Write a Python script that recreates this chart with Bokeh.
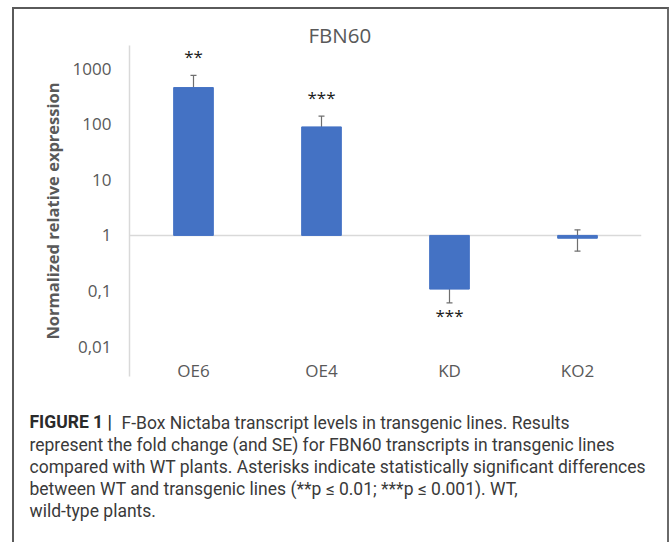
from bokeh.plotting import figure
from bokeh.layouts import column
from bokeh.models import (Range1d, FixedTicker, Whisker, TeeHead, ColumnDataSource, Title)
from bokeh.core.properties import value
from bokeh.embed import file_html
from bokeh.resources import INLINE

# ---------------- data ----------------
chart_title = "FBN60"
lines = ["OE6", "OE4", "KD", "KO2"]
fold_change = [460, 90, 0.108, 0.89]
se = [300, 51, 0.047, 0.37]
significance = ["**", "***", "***", ""]
y_ticks = [0.01, 0.1, 1, 10, 100, 1000]
y_tick_labels = ["0,01", "0,1", "1", "10", "100", "1000"]
y_label = "Normalized relative expression"
caption_head = "FIGURE 1 |"
caption_lines = [
    "F-Box Nictaba transcript levels in transgenic lines. Results",
    "represent the fold change (and SE) for FBN60 transcripts in transgenic lines",
    "compared with WT plants. Asterisks indicate statistically significant differences",
    "between WT and transgenic lines (**p \u2264 0.01; ***p \u2264 0.001). WT,",
    "wild-type plants.",
]

# ---------------- layout constants (page px) ----------------
OX, OY = 14, 9            # inner origin of the bordered box
W = 653                   # inner width
H1 = 533                  # figure height
FL, FR, FT, FB = 129, 641, 45, 376
GRAY = "#595959"
FONT = "Open Sans"

upper = [v + s for v, s in zip(fold_change, se)]
lower = [v - s for v, s in zip(fold_change, se)]
star_y = [u if v >= 1 else lo for v, u, lo in zip(fold_change, upper, lower)]
star_off = [-19 if v >= 1 else 13 for v in fold_change]

src = ColumnDataSource(dict(line=lines, fc=fold_change, upper=upper, lower=lower,
                            star=significance, star_y=star_y, star_off=star_off))

p = figure(width=W, height=H1, x_range=lines,
           y_range=Range1d(10 ** -2.54, 10 ** 3.42), y_axis_type="log",
           output_backend="svg", toolbar_location=None,
           min_border_left=FL - OX, min_border_right=W - (FR - OX),
           min_border_top=FT - OY, min_border_bottom=H1 - (FB - OY))
p.outline_line_color = None
p.background_fill_color = "white"
p.border_fill_color = "white"

# title
p.title.text = chart_title
p.title.align = "left"
p.title.offset = 179
p.title.standoff = -6
p.title.text_font = FONT
p.title.text_font_style = "normal"
p.title.text_font_size = "20.5px"
p.title.text_color = GRAY

# x axis
xa = p.xaxis[0]
xa.axis_line_color = None
xa.major_tick_line_color = None
xa.minor_tick_line_color = None
xa.major_tick_out = 0
xa.major_tick_in = 0
xa.major_label_standoff = -18
xa.major_label_text_font = FONT
xa.major_label_text_font_size = "17px"
xa.major_label_text_color = GRAY
p.xgrid.grid_line_color = None

# y axis
ya = p.yaxis[0]
ya.ticker = FixedTicker(ticks=y_ticks)
ya.major_label_overrides = dict(zip(y_ticks, y_tick_labels))
ya.axis_line_color = "#d9d9d9"
ya.axis_line_width = 1.5
ya.major_tick_line_color = None
ya.minor_tick_line_color = None
ya.major_tick_out = 0
ya.major_tick_in = 0
ya.major_label_standoff = 18
ya.major_label_text_font = FONT
ya.major_label_text_font_size = "17px"
ya.major_label_text_color = GRAY
ya.axis_label = y_label
ya.axis_label_text_font = FONT
ya.axis_label_text_font_style = "bold"
ya.axis_label_text_font_size = "16.5px"
ya.axis_label_text_color = GRAY
ya.axis_label_standoff = 6
p.ygrid.ticker = FixedTicker(ticks=[1])
p.ygrid.grid_line_color = "#d9d9d9"
p.ygrid.grid_line_width = 1.5

# bars
p.vbar(x="line", bottom=1, top="fc", width=0.31, source=src,
       fill_color="#4472c4", line_color="#4472c4")

# error bars
wh = Whisker(base="line", upper="upper", lower="lower", source=src,
             line_color="#6f6f6f", line_width=1.2,
             upper_head=TeeHead(size=6, line_color="#6f6f6f", line_width=1.2),
             lower_head=TeeHead(size=6, line_color="#6f6f6f", line_width=1.2))
p.add_layout(wh)

# significance asterisks
p.text(x="line", y="star_y", text="star", y_offset="star_off", source=src,
       text_align="center", text_baseline="alphabetic",
       text_font=value(FONT), text_font_size="17px", text_color="#1a1a1a")

# ---------------- caption (titles stacked in the panel below the plot) ----------------
CAP_FONT = "Roboto"
CAP_SIZE = "17.5px"
CAP_COLOR = "#3a3a3a"
E = 20.5                     # approx. text box height of one caption line
LINE_STEP = 22
s_line = LINE_STEP - 2 - E

def cap_title(txt, x_page, standoff, style="normal", valign="bottom", color=CAP_COLOR):
    return Title(text=txt, align="left", offset=x_page - FL, standoff=standoff,
                 vertical_align=valign, text_font=CAP_FONT, text_font_size=CAP_SIZE,
                 text_font_style=style, text_color=color)

p.add_layout(cap_title(" ", 29, 3.5), "below")          # spacer
for i, txt in enumerate(caption_lines):
    p.add_layout(cap_title(txt, 121 if i == 0 else 29, s_line), "below")
p.add_layout(cap_title(caption_head, 29, s_line - 216, style="bold", valign="top",
                       color="#2a2a2a"), "below")

layout = column(p, spacing=0, margin=(OY - 2, 0, 0, OX - 2),
                styles={"border-left": "2px solid #5a5a5a",
                        "border-top": "2px solid #5a5a5a",
                        "border-right": "2px solid #6a6a6a"})

open("out.html", "w").write(file_html(layout, INLINE))
